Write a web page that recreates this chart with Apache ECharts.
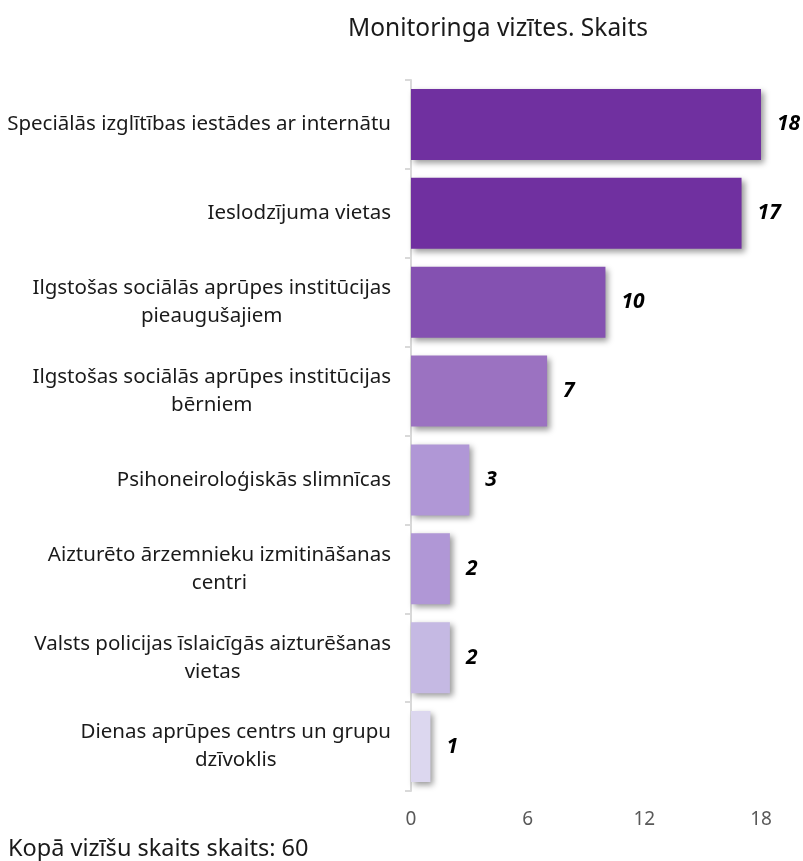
<!DOCTYPE html>
<html>
<head>
<meta charset="utf-8">
<script src="https://cdn.jsdelivr.net/npm/echarts@6/dist/echarts.min.js"></script>
<style>html,body{margin:0;padding:0;background:#fff}#c{width:803px;height:861px}</style>
</head>
<body>
<div id="c"></div>
<script>
const categories = [
  "Speciālās izglītības iestādes ar internātu",
  "Ieslodzījuma vietas",
  "Ilgstošas sociālās aprūpes institūcijas\npieaugušajiem",
  "Ilgstošas sociālās aprūpes institūcijas\nbērniem",
  "Psihoneiroloģiskās slimnīcas",
  "Aizturēto ārzemnieku izmitināšanas\ncentri",
  "Valsts policijas īslaicīgās aizturēšanas\nvietas",
  "Dienas aprūpes centrs un grupu\ndzīvoklis"
];
const values = [18, 17, 10, 7, 3, 2, 2, 1];
const barColors = ["#7030A0", "#7030A0", "#8451B1", "#9B72C1", "#B097D6", "#B097D6", "#C5B9E3", "#DCD7EF"];
const xTicks = [0, 6, 12, 18];
const titleText = "Monitoringa vizītes. Skaits";
const footText = "Kopā vizīšu skaits skaits: 60";

const FONT = "Noto Sans";
const chart = echarts.init(document.getElementById('c'), null, {renderer: 'canvas'});
chart.setOption({
  backgroundColor: '#fff',
  animation: false,
  title: [{
    text: titleText, left: 493, top: 12, textAlign: 'center',
    textStyle: {fontFamily: FONT, fontSize: 24.5, fontWeight: 'normal', color: '#1a1a1a'}
  }, {
    text: footText, left: 3, top: 832,
    textStyle: {fontFamily: FONT, fontSize: 23.5, fontWeight: 'normal', color: '#1a1a1a'}
  }],
  grid: {left: 411, right: 42, top: 80, bottom: 70, containLabel: false},
  xAxis: {
    type: 'value', min: xTicks[0], max: xTicks[xTicks.length - 1], interval: 6,
    splitLine: {show: false}, axisLine: {show: false}, axisTick: {show: false},
    axisLabel: {fontFamily: FONT, fontSize: 19, color: '#595959', margin: 19}
  },
  yAxis: {
    type: 'category', data: categories, inverse: true,
    axisLine: {show: true, lineStyle: {color: '#D9D9D9', width: 2}},
    axisTick: {show: true, length: 6, lineStyle: {color: '#D9D9D9', width: 2}},
    axisLabel: {
      margin: 20, fontFamily: FONT, fontSize: 20.5, color: '#1a1a1a', lineHeight: 28, align: 'right',
      formatter: v => v.split('\n').map(s => '{c|' + s + '}').join('\n'),
      rich: {c: {align: 'center', fontFamily: FONT, fontSize: 20.5, color: '#1a1a1a', lineHeight: 28}}
    }
  },
  series: [{
    type: 'bar', barCategoryGap: '20%',
    data: values.map((v, i) => ({value: v, itemStyle: {color: barColors[i]}})),
    itemStyle: {shadowColor: 'rgba(0,0,0,0.4)', shadowBlur: 6, shadowOffsetX: 3, shadowOffsetY: 3},
    label: {show: true, position: 'right', distance: 16, fontFamily: FONT, fontSize: 21,
      fontWeight: 'bold', fontStyle: 'italic', color: '#000'}
  }]
});
</script>
</body>
</html>
